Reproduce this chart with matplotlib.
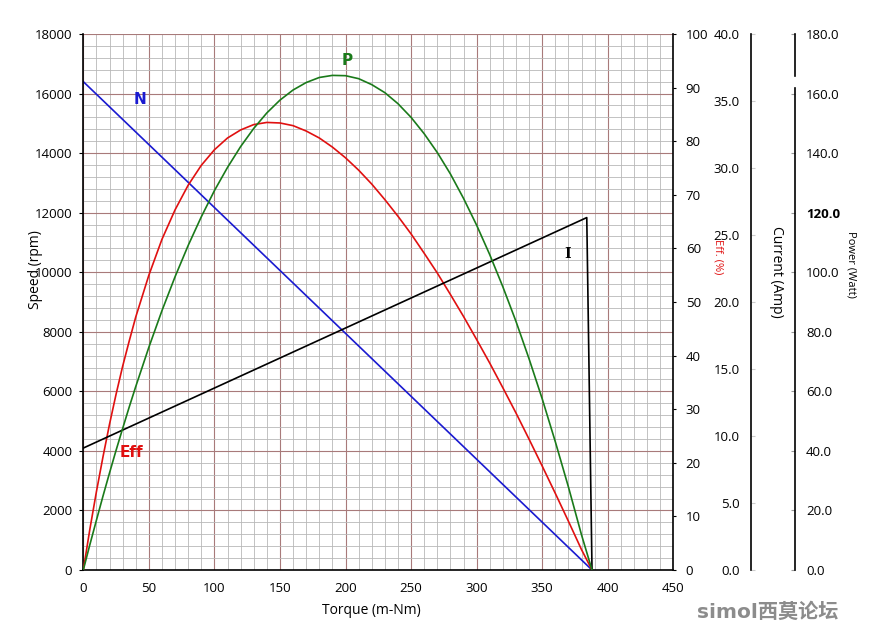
import matplotlib
matplotlib.use("Agg")
import matplotlib.pyplot as plt
from matplotlib.ticker import MultipleLocator, FormatStrFormatter

# torque points (m-Nm) for the efficiency / power curves
torque = [0, 5, 10, 15, 20, 25, 30, 35, 40, 50, 60, 70, 80, 90, 100, 110, 120,
          130, 140, 150, 160, 170, 180, 190, 200, 210, 220, 230, 240, 250, 260,
          270, 280, 290, 300, 310, 320, 330, 340, 350, 360, 370, 380, 388]
eff = [0, 7.6, 14.6, 21.1, 27.2, 32.8, 38.0, 42.7, 47.2, 55.0, 61.7, 67.2,
       71.8, 75.5, 78.4, 80.6, 82.1, 83.1, 83.5, 83.4, 82.9, 81.9, 80.6, 78.9,
       76.9, 74.6, 72.0, 69.1, 66.0, 62.7, 59.1, 55.4, 51.4, 47.3, 43.0, 38.6,
       34.0, 29.3, 24.4, 19.4, 14.3, 9.1, 3.8, 0]
power = [0, 8.5, 16.7, 24.8, 32.6, 40.2, 47.5, 54.7, 61.6, 74.8, 87.1, 98.5,
         109.0, 118.6, 127.4, 135.2, 142.2, 148.3, 153.5, 157.8, 161.2, 163.7,
         165.4, 166.1, 166.0, 165.0, 163.0, 160.3, 156.6, 152.0, 146.5, 140.2,
         133.0, 124.8, 115.8, 105.9, 95.1, 83.5, 70.9, 57.5, 43.1, 27.9, 11.8, 0]

speed_torque = [0, 388]
speed = [16400, 0]

current_torque = [0, 384, 388]
current = [9.1, 26.3, 0]

plt.rcParams['font.family'] = ['Open Sans', 'DejaVu Sans']
FS = 9.5

fig = plt.figure(figsize=(8.7, 6.31), dpi=100)
ax = fig.add_axes([83.3 / 870, 61 / 631, 590 / 870, 536 / 631])

ax.set_xlim(0, 450)
ax.set_ylim(0, 18000)
ax.xaxis.set_major_locator(MultipleLocator(50))
ax.xaxis.set_minor_locator(MultipleLocator(10))
ax.yaxis.set_major_locator(MultipleLocator(2000))
ax.yaxis.set_minor_locator(MultipleLocator(400))
ax.grid(which='minor', color='#b8b8b8', lw=0.6)
ax.grid(which='major', color='#a87a7a', lw=0.8)
ax.set_axisbelow(True)
ax.tick_params(axis='both', which='minor', length=0)
ax.tick_params(axis='y', which='major', length=3, pad=5, labelsize=FS)
ax.tick_params(axis='x', which='major', length=0, pad=9, labelsize=FS)
for s in ['top', 'right']:
    ax.spines[s].set_visible(False)
ax.spines['left'].set_linewidth(1.2)
ax.spines['bottom'].set_linewidth(1.2)

ax.plot(speed_torque, speed, color='#1a1ad0', lw=1.2)

# efficiency axis
ax_eff = ax.twinx()
ax_eff.set_ylim(0, 100)
ax_eff.yaxis.set_major_locator(MultipleLocator(10))
ax_eff.tick_params(axis='y', length=2, pad=7, labelsize=FS)
for s in ['top', 'left', 'bottom']:
    ax_eff.spines[s].set_visible(False)
ax_eff.spines['right'].set_linewidth(1.2)
ax_eff.plot(torque, eff, color='#e01010', lw=1.2)

# current axis
ax_cur = ax.twinx()
ax_cur.set_ylim(0, 40)
for s in ['top', 'right', 'bottom']:
    ax_cur.spines[s].set_visible(False)
ax_cur.spines['left'].set_visible(True)
ax_cur.spines['left'].set_position(('axes', 1.1317))
ax_cur.spines['left'].set_linewidth(1.2)
ax_cur.yaxis.tick_left()
ax_cur.yaxis.set_major_locator(MultipleLocator(5))
ax_cur.yaxis.set_major_formatter(FormatStrFormatter('%.1f'))
ax_cur.tick_params(axis='y', direction='in', length=3, pad=8, labelsize=FS,
                   color='#cccccc')
ax_cur.plot(current_torque, current, color='black', lw=1.2)

# power axis
ax_pow = ax.twinx()
ax_pow.set_ylim(0, 180)
for s in ['top', 'left', 'bottom']:
    ax_pow.spines[s].set_visible(False)
ax_pow.spines['right'].set_position(('axes', 1.2063))
ax_pow.spines['right'].set_linewidth(1.2)
ax_pow.spines['right'].set_bounds(0, 162)
ax_pow.plot([1.2063, 1.2063], [166, 180], color='black', lw=1.2, clip_on=False,
            transform=ax_pow.get_yaxis_transform())
ax_pow.yaxis.set_major_locator(MultipleLocator(20))
ax_pow.yaxis.set_major_formatter(FormatStrFormatter('%.1f'))
ax_pow.tick_params(axis='y', direction='in', length=3, pad=8, labelsize=FS,
                   color='#999999')
ax_pow.plot(torque, power, color='#1a7a1a', lw=1.2)
fig.canvas.draw()
for lab in ax_pow.get_yticklabels():
    if lab.get_text() == '120.0':
        lab.set_fontweight('bold')

# curve labels
ax.text(43.5, 15800, 'N', color='#1a1ad0', fontsize=11, fontweight='bold',
        ha='center', va='center', family='DejaVu Sans')
ax.text(201, 17100, 'P', color='#1a7a1a', fontsize=11, fontweight='bold',
        ha='center', va='center', family='DejaVu Sans')
ax.text(37, 3930, 'Eff', color='#e01010', fontsize=11, fontweight='bold',
        ha='center', va='center', family='DejaVu Sans')
ax.text(369.5, 10600, 'I', color='black', fontsize=10, fontweight='bold',
        ha='center', va='center', family='DejaVu Serif')

# axis titles
fig.text(371 / 870, 1 - 611 / 631, 'Torque (m-Nm)', fontsize=10,
         ha='center', va='center')
fig.text(36 / 870, 1 - 270 / 631, 'Speed (rpm)', fontsize=10, rotation=90,
         ha='center', va='center')
fig.text(718 / 870, 1 - 257 / 631, 'Eff. (%)', fontsize=8, color='#e01010',
         rotation=270, ha='center', va='center')
fig.text(777 / 870, 1 - 272 / 631, 'Current (Amp)', fontsize=10, rotation=270,
         ha='center', va='center')
fig.text(851 / 870, 1 - 264 / 631, 'Power (Watt)', fontsize=8, rotation=270,
         ha='center', va='center')

# logo text
fig.text(768 / 870, 1 - 612 / 631, 'simol西莫论坛', fontsize=14.5,
         color='#8c8c8c', fontweight='bold', ha='center', va='center',
         family=['DejaVu Sans', 'Noto Sans CJK SC'])

fig.savefig('out.png', dpi=100)
